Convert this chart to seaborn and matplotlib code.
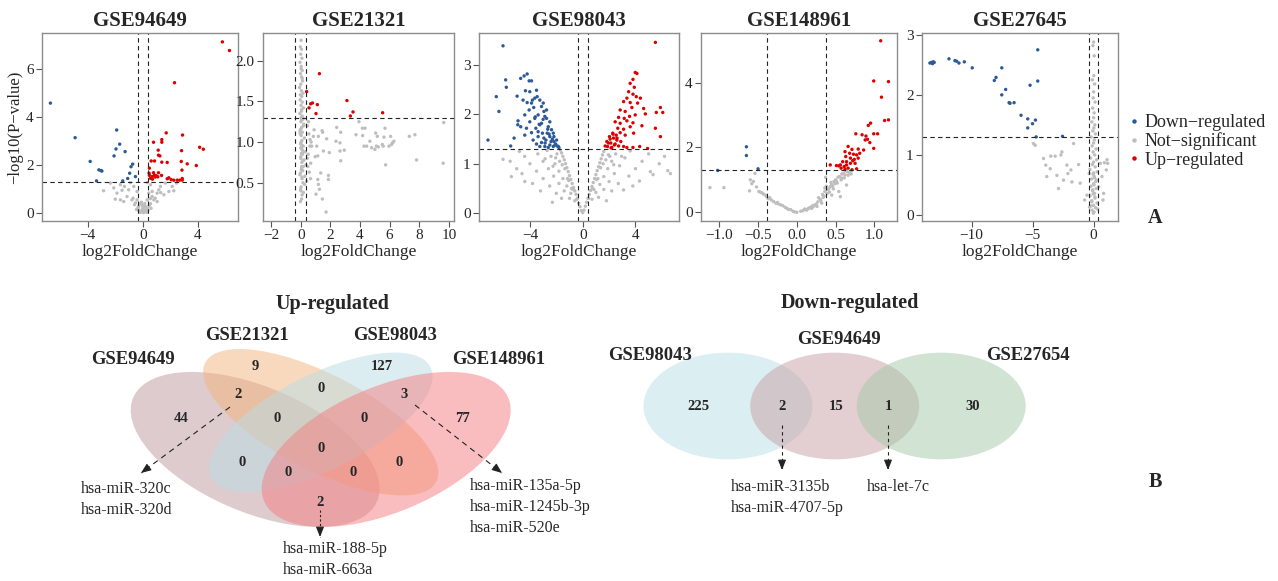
import numpy as np
import pandas as pd
import seaborn as sns
import matplotlib.pyplot as plt
from matplotlib.patches import Ellipse
from matplotlib.transforms import Affine2D
from matplotlib.lines import Line2D

sns.set_theme(style="white")
plt.rcParams["font.family"] = ["Liberation Serif", "DejaVu Serif"]
plt.rcParams["axes.unicode_minus"] = True

MINUS = "\u2212"
DOWN, NS, UP = f"Down{MINUS}regulated", f"Not{MINUS}significant", f"Up{MINUS}regulated"
palette = {DOWN: "#2b5a97", NS: "#bebebe", UP: "#dd0000"}

# ---------------- volcano data (log2FC, -log10 p) ----------------
# GSE94649
p1_up_x = [5.77, 6.28, 2.30, 1.70, 2.88, 1.38, 1.38, 0.78, 4.12, 4.39, 2.81, 1.12, 1.14, 1.24, 0.85, 1.38,
           1.77, 2.79, 3.22, 3.88, 2.84, 0.61, 0.48, 0.46, 0.48, 0.78, 0.85, 0.99, 0.68, 1.14, 1.09, 1.36,
           1.77, 2.06, 2.25, 2.50, 2.67, 2.86, 2.86, 1.89, 0.90, 0.70, 0.56]
p1_up_y = [7.13, 6.77, 5.43, 3.34, 3.25, 3.06, 2.95, 2.95, 2.74, 2.66, 2.60, 2.62, 2.41, 2.38, 2.17, 2.12,
           2.11, 2.15, 2.05, 1.98, 1.79, 2.17, 1.87, 1.66, 1.57, 1.68, 1.58, 1.55, 1.52, 1.68, 1.51, 1.57,
           1.43, 1.39, 1.37, 1.37, 1.37, 1.37, 1.44, 1.47, 1.50, 1.41, 1.45]
p1_dn_x = [-6.69, -4.90, -1.89, -1.67, -1.94, -1.28, -2.08, -3.81, -0.73, -0.85, -3.18, -3.03, -2.96,
           -0.95, -0.53, -1.09, -1.45, -3.35]
p1_dn_y = [4.58, 3.14, 3.46, 2.87, 2.67, 2.56, 2.38, 2.15, 2.04, 1.93, 1.80, 1.77, 1.75, 1.66, 1.52, 1.44,
           1.34, 1.34]
p1_ns_x = [-2.84, -1.99, -2.35, -1.62, -1.33, -0.90, -0.65, -0.41, 0.56, 0.68, 1.04, 1.53, 1.89, 1.28, 1.65,
           2.13, -1.14, -0.78, -0.53, -0.29, -0.05, 0.07, 0.32, 0.56, 0.80, 1.04, 0.19, -0.17, -0.41, 0.32,
           -1.62, -1.38, -1.87, 0.32, -0.17, -0.05, 0.68, 0.44, -1.02, 1.16, 2.25, 0.32, -0.30, 0.10, 0.00,
           -0.20, 0.25, 0.45, -0.60, 0.15, -0.10, 0.60, 2.45, -2.10, -0.35, 0.05, 0.20, -0.45, 0.38,
           -0.70, 0.90, 1.30, -1.50, 0.55, -0.25, 0.12]
p1_ns_y = [0.93, 0.58, 1.25, 1.18, 1.11, 1.27, 1.11, 0.90, 1.18, 0.90, 0.83, 0.76, 0.90, 1.11, 1.25,
           1.11, 0.69, 0.55, 0.42, 0.28, 0.14, 0.07, 0.21, 0.39, 0.55, 0.48, 0.28, 0.39, 0.55, 0.55,
           0.55, 0.48, 0.83, 0.03, 0.03, 0.35, 0.69, 0.83, 0.97, 0.97, 0.93, 1.27, 0.12, 0.18, 0.25,
           0.05, 0.10, 0.30, 0.35, 0.40, 0.45, 0.20, 1.25, 1.05, 0.22, 0.02, 0.06, 0.15, 0.12,
           0.62, 0.62, 0.85, 0.95, 0.60, 0.08, 0.30]

# GSE21321
p2_up_x = [1.26, 0.40, 0.67, 0.79, 0.56, 1.12, 1.03, 3.12, 3.53, 3.35, 5.53]
p2_up_y = [1.84, 1.62, 1.47, 1.48, 1.42, 1.46, 1.35, 1.51, 1.37, 1.32, 1.36]
p2_ns_x = [0.90, 1.44, 1.48, 0.85, 1.19, 0.63, 1.75, 0.74, 1.08, 1.53, 1.93, 0.97, 1.15, 0.67, 1.87, 1.87,
           1.35, 1.15, 1.19, 1.26, 1.03, 1.46, 1.71, 2.43, 2.70, 2.38, 2.65, 2.94, 2.65, 2.70, 3.93, 3.73,
           4.16, 4.34, 4.18, 4.27, 4.67, 5.06, 5.17, 4.79, 5.11, 5.01, 5.69, 5.62, 5.57, 5.51, 5.73, 6.07,
           6.20, 6.29, 6.13, 5.96, 7.33, 7.71, 7.82, 9.66, 9.62, 4.45, 5.24,
           0.02, -0.03, 0.05, 0.00, 0.08, -0.05, 0.03, 0.10, -0.02, 0.06, 0.12, 0.00, -0.08, 0.04, 0.15,
           0.07, -0.04, 0.10, 0.02, 0.18, 0.05, -0.06, 0.09, 0.14, 0.01, 0.20, 0.06, -0.03, 0.11, 0.03,
           0.25, 0.08, -0.01, 0.16, 0.04, 0.30, 0.12, 0.00, 0.22, 0.07, 0.35, 0.05, 0.13, -0.02, 0.28,
           0.09, 0.40, 0.02, 0.18, 0.06, -0.04, 0.03, 0.11, 0.00, 0.07, -0.06, 0.15, 0.01, 0.09, -0.02,
           0.05, 0.19, 0.00, 0.12, 0.04, 0.26, 0.08, -0.05, 0.14, 0.02, 0.45, 0.55, 0.62, 0.50, 0.70,
           0.48, 0.58, 0.66, 0.52, 0.44, 0.03, 0.10, -0.03, 0.06, 0.14, 0.00, 0.08, 0.04, 0.17, -0.01]
p2_ns_y = [1.15, 1.14, 1.12, 1.07, 1.07, 1.03, 1.04, 0.95, 0.95, 0.89, 0.87, 0.82, 0.83, 0.74, 0.59, 0.54,
           0.62, 0.54, 0.48, 0.42, 0.36, 0.30, 0.14, 1.18, 1.12, 1.01, 0.99, 0.90, 0.89, 0.77, 1.25, 1.09,
           1.17, 1.17, 1.08, 0.95, 1.01, 1.11, 1.07, 0.93, 0.95, 0.91, 1.17, 1.06, 0.95, 0.97, 0.72, 1.07,
           0.99, 1.01, 0.97, 0.95, 1.07, 1.09, 0.78, 1.24, 0.74, 0.95, 0.94,
           2.25, 2.17, 2.14, 2.08, 2.03, 1.98, 1.93, 1.88, 1.84, 1.80, 1.75, 1.71, 1.67, 1.63, 1.60,
           1.56, 1.52, 1.49, 1.45, 1.42, 1.38, 1.35, 1.32, 1.28, 1.25, 1.22, 1.18, 1.15, 1.12, 1.08,
           1.05, 1.02, 0.98, 0.95, 0.92, 0.88, 0.85, 0.82, 0.78, 0.75, 0.72, 0.68, 0.65, 0.62, 0.58,
           0.55, 0.52, 0.45, 0.38, 0.30, 1.10, 1.00, 0.90, 0.80, 0.70, 0.60, 0.50, 0.40, 0.35, 0.27,
           1.27, 1.20, 0.93, 0.87, 0.66, 0.48, 0.57, 1.13, 0.77, 1.30, 1.20, 1.10, 0.95, 0.85, 1.00,
           0.70, 0.63, 0.55, 1.25, 0.80, 1.90, 1.78, 1.58, 1.40, 1.30, 1.16, 0.96, 0.86, 0.70, 0.42]

# GSE98043
p3_dn_x = [-6.04, -5.84, -5.79, -6.55, -6.35, -7.18, -5.46, -5.20, -4.90, -4.92, -4.97, -4.70, -4.44, -4.21,
           -4.06, -3.88, -4.34, -4.01, -3.50, -4.52, -4.21, -3.81, -3.45, -3.25, -4.39, -4.06, -3.71, -3.12,
           -4.26, -4.01, -3.63, -3.38, -2.94, -4.39, -3.88, -3.55, -3.25, -2.74, -3.76, -3.38, -3.05, -2.61,
           -2.49, -3.50, -3.12, -2.79, -2.49, -2.23, -3.25, -2.87, -2.49, -2.18, -1.98, -2.61, -2.23, -1.93,
           -1.85, -2.99, -2.74, -2.87, -3.12, -3.38, -2.36, -2.18, -2.69, -2.94, -4.70, -3.88, -3.63, -2.55,
           -2.40, -2.05, -1.80, -3.00, -2.65, -2.30, -3.60, -3.30, -2.85, -2.10]
p3_dn_y = [3.39, 2.70, 2.55, 2.36, 2.06, 1.48, 1.36, 1.52, 1.87, 1.79, 2.37, 2.73, 2.78, 2.82,
           2.68, 2.68, 2.48, 2.46, 2.49, 2.29, 2.24, 2.29, 2.36, 2.29, 1.99, 2.09, 2.14, 2.16,
           1.72, 1.85, 1.92, 1.99, 2.06, 1.58, 1.63, 1.72, 1.79, 1.92, 1.48, 1.55, 1.62, 1.75,
           1.85, 1.40, 1.43, 1.48, 1.55, 1.62, 1.35, 1.35, 1.38, 1.45, 1.48, 1.33, 1.35, 1.36,
           1.35, 2.23, 2.09, 1.96, 1.82, 1.65, 1.69, 1.55, 1.62, 1.52, 1.75, 2.23, 2.33, 1.60,
           1.45, 1.40, 1.33, 1.90, 1.70, 1.50, 1.95, 1.80, 1.42, 1.38]
p3_up_x = [5.51, 3.98, 4.11, 3.81, 3.60, 3.91, 3.48, 3.81, 4.06, 4.37, 3.35, 3.10, 3.60, 4.16, 5.89, 6.07,
           5.58, 2.84, 3.22, 3.73, 4.62, 2.72, 3.15, 3.55, 3.98, 4.75, 2.46, 2.84, 3.35, 3.81, 2.66, 3.10,
           3.60, 4.49, 5.51, 2.28, 2.54, 2.84, 3.22, 3.86, 2.03, 2.34, 2.59, 2.89, 5.89, 1.83, 2.13, 2.46,
           2.72, 3.10, 1.88, 2.21, 3.35, 3.81, 4.32, 4.92, 2.08, 1.70, 2.30, 2.60, 1.95, 2.40, 2.15]
p3_up_y = [3.46, 2.85, 2.83, 2.71, 2.63, 2.55, 2.46, 2.41, 2.36, 2.33, 2.33, 2.26, 2.24, 2.23, 2.14, 2.04,
           2.04, 2.09, 2.06, 2.14, 2.12, 1.94, 1.92, 1.96, 1.99, 2.01, 1.85, 1.82, 1.87, 1.83, 1.72, 1.70,
           1.75, 1.77, 1.72, 1.62, 1.58, 1.63, 1.58, 1.62, 1.55, 1.52, 1.48, 1.45, 1.55, 1.45, 1.42, 1.40,
           1.36, 1.35, 1.35, 1.33, 1.33, 1.33, 1.35, 1.31, 1.50, 1.36, 1.60, 1.52, 1.42, 1.38, 1.32]
p3_ns_x = [-0.1, -0.2, -0.3, -0.4, -0.5, -0.6, -0.7, -0.8, -0.9, -1.0, -1.1, -1.2, -1.3, -1.4, -1.5, -1.6,
           -1.7, -0.6, -0.9, -1.2, -1.5, -1.8, -2.1, -2.4, -2.7, -1.0, -1.4, -1.8, -2.2, -2.6, -3.0, -3.4,
           -2.0, -2.5, -3.0, -3.5, -4.0, -4.4, -4.8, -3.2, -3.8, -4.39, -5.41, -6.04, -5.0, -5.5, -4.6,
           -2.3, -1.6, -1.15, -1.35, -0.85, -1.95, -2.25, -2.85, -0.45, -0.75, -1.05, -1.55, -1.75, -2.05,
           0.1, 0.2, 0.3, 0.4, 0.5, 0.6, 0.7, 0.8, 0.9, 1.0, 1.1, 1.2, 1.3, 1.4, 1.5, 1.6, 0.7, 1.0, 1.3,
           1.6, 1.9, 2.2, 2.5, 1.2, 1.6, 2.0, 2.4, 2.8, 3.2, 3.6, 2.2, 2.7, 3.10, 3.5, 4.0, 4.5, 5.0,
           5.13, 5.33, 6.45, 6.65, 4.3, 5.8, 6.2, 3.8, 1.8, 1.15, 1.35, 0.85, 1.95, 2.35, 2.95, 0.0,
           0.45, 0.75, 1.05, 1.55, 1.75, 2.05]
p3_ns_y = [0.05, 0.13, 0.20, 0.30, 0.38, 0.45, 0.52, 0.60, 0.68, 0.76, 0.84, 0.92, 1.00, 1.08, 1.15, 1.22,
           1.28, 0.25, 0.40, 0.55, 0.70, 0.85, 1.00, 1.15, 1.27, 0.30, 0.45, 0.60, 0.75, 0.90, 1.05, 1.20,
           0.40, 0.55, 0.70, 0.85, 1.00, 1.15, 1.25, 0.45, 0.60, 0.64, 0.74, 1.09, 0.90, 1.05, 0.80,
           0.22, 0.30, 0.70, 0.90, 0.50, 1.20, 0.95, 1.10, 0.28, 0.48, 0.66, 0.98, 1.05, 1.12,
           0.06, 0.14, 0.22, 0.30, 0.38, 0.46, 0.54, 0.62, 0.70, 0.78, 0.86, 0.94, 1.02, 1.10, 1.18, 1.25,
           0.28, 0.42, 0.58, 0.74, 0.90, 1.05, 1.20, 0.32, 0.48, 0.64, 0.80, 0.96, 1.12, 1.26, 0.45,
           0.60, 0.47, 0.75, 0.90, 1.05, 1.20, 0.84, 0.78, 0.86, 0.80, 0.65, 1.00, 1.15, 0.55, 0.25,
           0.70, 0.92, 0.48, 1.18, 0.98, 1.15, 0.01, 0.30, 0.50, 0.68, 1.00, 1.08, 1.15]

# GSE148961
p4_dn_x = [-0.65, -0.65, -0.50, -1.02]
p4_dn_y = [2.02, 1.75, 1.34, 1.29]
p4_up_x = [1.08, 0.99, 1.18, 1.09, 1.13, 1.18, 0.92, 0.95, 0.76, 0.84, 0.89, 0.99, 1.04, 0.88, 0.91, 0.94,
           0.66, 0.71, 0.79, 0.86, 0.99, 0.62, 0.68, 0.73, 0.77, 0.63, 0.69, 0.74, 0.79, 0.59, 0.64, 0.69,
           0.75, 0.43, 0.51, 0.56, 0.61, 0.57, 0.62, 0.66, 0.77, 0.71, 0.54, 0.64, 0.72, 0.81]
p4_up_y = [5.29, 4.05, 4.03, 3.55, 2.83, 2.85, 2.68, 2.75, 2.42, 2.39, 2.35, 2.42, 2.42, 2.23, 2.25, 2.15,
           2.03, 1.94, 1.95, 1.92, 1.97, 1.87, 1.82, 1.79, 1.77, 1.72, 1.67, 1.63, 1.67, 1.56, 1.56, 1.51,
           1.51, 1.46, 1.44, 1.46, 1.41, 1.36, 1.33, 1.36, 1.34, 1.31, 1.43, 1.46, 1.59, 1.82]
p4_ns_x = [-0.60, -0.49, -0.39, -0.30, -0.21, -0.11, 0.00, 0.13, 0.21, 0.30, 0.36, 0.43, 0.51, 0.58, 0.62,
           0.54, 0.45, 0.32, -1.12, -0.94, -0.61, -0.56, -0.54, 0.56, 0.64, 0.37, 0.25, 0.35, 0.40, 0.45,
           0.50, 0.55, 0.60, 0.65, 0.28, 0.15, -0.15, -0.25, -0.35, -0.45, -0.40, 0.05, -0.05, 0.47, 0.52,
           0.42, 0.33, 0.38, 0.48, 0.58, 0.20, 0.10, -0.08, -0.18, 0.68, 0.44, 0.53, 0.36,
           0.08, 0.17, 0.23, 0.27, 0.31, 0.34, 0.39, 0.41, 0.46, 0.49, 0.57, 0.61, 0.66, 0.70, 0.63,
           -0.03, -0.13, -0.24, -0.33, -0.43, -0.52, -0.58, -0.27, -0.37, -0.47, 0.12, 0.19, 0.26]
p4_ns_y = [1.00, 0.64, 0.48, 0.33, 0.23, 0.09, 0.00, 0.07, 0.17, 0.40, 0.64, 0.79, 0.95, 1.05, 1.15,
           0.64, 0.53, 0.28, 0.76, 0.76, 0.66, 0.95, 1.20, 0.48, 0.84, 1.08, 0.25, 0.50, 0.70, 0.85,
           1.00, 1.10, 1.20, 1.25, 0.45, 0.12, 0.15, 0.30, 0.45, 0.60, 0.52, 0.03, 0.03, 0.72, 0.90,
           0.62, 0.55, 0.80, 0.95, 1.18, 0.20, 0.10, 0.08, 0.20, 1.22, 0.92, 1.08, 0.75,
           0.05, 0.15, 0.22, 0.32, 0.36, 0.46, 0.58, 0.72, 0.80, 0.88, 1.00, 1.06, 1.14, 1.18, 1.28,
           0.01, 0.12, 0.26, 0.38, 0.56, 0.78, 0.88, 0.28, 0.42, 0.62, 0.08, 0.12, 0.18]

# GSE27645
p5_dn_x = [-13.42, -13.29, -13.15, -13.07, -13.21, -11.86, -11.37, -11.23, -11.04, -10.60, -9.95, -7.53,
           -8.00, -8.14, -7.21, -7.53, -6.93, -6.85, -6.52, -5.95, -5.40, -5.40, -5.01, -4.77, -5.21, -4.58,
           -4.58, -4.71, -2.55]
p5_dn_y = [2.53, 2.54, 2.55, 2.54, 2.52, 2.60, 2.57, 2.56, 2.53, 2.55, 2.45, 2.45,
           2.29, 2.24, 2.09, 2.00, 1.87, 1.86, 1.87, 1.66, 1.60, 1.45, 1.52, 1.58, 2.16, 2.75,
           2.23, 1.30, 1.31]
p5_ns_x = [-4.93, -4.79, -4.11, -3.92, -3.51, -3.15, -2.68, -2.60, -3.84, -3.01, -2.19, -2.11, -1.86, -1.64,
           -1.23, -1.10, -0.74, -0.55, -0.36, 0.55, 0.88, 1.10, 1.04, 0.68, 0.82, 0.41, 0.77, 1.15, -2.88,
           -2.47, -3.56, -1.78,
           0.00, -0.05, 0.05, 0.02, -0.10, 0.08, 0.00, -0.03, 0.12, -0.08, 0.04, 0.00, -0.15, 0.10, 0.02,
           -0.06, 0.15, -0.20, 0.06, 0.00, -0.12, 0.20, -0.04, 0.09, -0.25, 0.25, 0.00, -0.10, 0.14, -0.30,
           0.30, -0.05, 0.05, -0.18, 0.18, 0.00, -0.22, 0.22, -0.08, 0.08, -0.28, 0.12, -0.15, 0.28, 0.00,
           -0.33, 0.33, -0.12, 0.04, -0.02, 0.03, -0.07, 0.10, -0.14, 0.16, -0.02, 0.07, -0.20, 0.24, 0.01]
p5_ns_y = [1.19, 1.16, 0.94, 0.83, 0.98, 0.98, 1.00, 1.05, 0.64, 0.66, 0.83, 0.69, 0.75, 1.19,
           0.84, 0.53, 0.25, 0.33, 0.69, 0.86, 0.87, 0.92, 0.75, 0.64, 0.36, 0.47, 0.25, 0.86, 0.44,
           0.58, 0.77, 0.55,
           2.88, 2.82, 2.65, 2.32, 2.25, 2.18, 2.05, 1.95, 1.88, 1.78, 1.70, 1.62, 1.55, 1.50, 1.45,
           1.40, 1.35, 1.30, 1.25, 1.20, 1.15, 1.10, 1.05, 1.00, 0.95, 0.92, 0.88, 0.84, 0.80, 0.76,
           0.72, 0.68, 0.64, 0.60, 0.56, 0.52, 0.48, 0.44, 0.40, 0.36, 0.32, 0.28, 0.24, 0.20, 0.16,
           0.13, 0.10, 0.08, 0.05, 0.03, 0.50, 0.42, 0.30, 0.22, 0.12, 0.35, 0.62, 0.15, 0.58, 0.70]

# ---------------- Venn data ----------------
up_sets = ["GSE94649", "GSE21321", "GSE98043", "GSE148961"]
up_region_counts = [44, 9, 127, 77, 2, 0, 3, 0, 0, 0, 0, 0, 0, 0, 2]
up_region_names = ["A", "B", "C", "D", "AB", "BC", "CD", "ABC", "BCD", "ABCD", "AC", "ACD", "ABD", "BD", "AD"]
up_genes_AB = ["hsa-miR-320c", "hsa-miR-320d"]
up_genes_CD = ["hsa-miR-135a-5p", "hsa-miR-1245b-3p", "hsa-miR-520e"]
up_genes_AD = ["hsa-miR-188-5p", "hsa-miR-663a"]

down_sets = ["GSE98043", "GSE94649", "GSE27654"]
down_region_counts = [225, 2, 15, 1, 30]
down_genes_12 = ["hsa-miR-3135b", "hsa-miR-4707-5p"]
down_genes_23 = ["hsa-let-7c"]


def frame(dn_x, dn_y, ns_x, ns_y, up_x, up_y):
    parts = [pd.DataFrame({"x": ns_x, "y": ns_y, "group": NS}),
             pd.DataFrame({"x": dn_x, "y": dn_y, "group": DOWN}),
             pd.DataFrame({"x": up_x, "y": up_y, "group": UP})]
    return pd.concat(parts, ignore_index=True)


panels = [
    ("GSE94649", frame(p1_dn_x, p1_dn_y, p1_ns_x, p1_ns_y, p1_up_x, p1_up_y),
     (-7.3, 6.9), (-0.33, 7.5), [-4, 0, 4], [0, 2, 4, 6], None),
    ("GSE21321", frame([], [], p2_ns_x, p2_ns_y, p2_up_x, p2_up_y),
     (-2.55, 10.35), (0.03, 2.34), [-2, 0, 2, 4, 6, 8, 10], [0.5, 1.0, 1.5, 2.0], "y1"),
    ("GSE98043", frame(p3_dn_x, p3_dn_y, p3_ns_x, p3_ns_y, p3_up_x, p3_up_y),
     (-7.86, 7.3), (-0.16, 3.65), [-4, 0, 4], [0, 1, 2, 3], None),
    ("GSE148961", frame(p4_dn_x, p4_dn_y, p4_ns_x, p4_ns_y, p4_up_x, p4_up_y),
     (-1.235, 1.29), (-0.27, 5.53), [-1.0, -0.5, 0.0, 0.5, 1.0], [0, 2, 4], "x1"),
    ("GSE27645", frame(p5_dn_x, p5_dn_y, p5_ns_x, p5_ns_y, [], []),
     (-14.07, 2.0), (-0.1, 3.03), [-10, -5, 0], [0, 1, 2, 3], None),
]

W, H = 1278, 581
fig = plt.figure(figsize=(W / 100, H / 100), dpi=100)

lefts = [42, 263, 479, 701, 922]
widths = [196, 191, 200, 196, 196]
fc = np.log2(1.3)
for (title, df, xl, yl, xt, yt, fmt), l, w in zip(panels, lefts, widths):
    ax = fig.add_axes([l / W, (H - 221) / H, w / W, 188 / H])
    sns.scatterplot(data=df, x="x", y="y", hue="group", palette=palette, s=6,
                    linewidth=0, legend=False, ax=ax)
    ax.axhline(-np.log10(0.05), ls=(0, (4, 3)), color="#222222", lw=0.8)
    ax.axvline(-fc, ls=(0, (4, 3)), color="#222222", lw=0.8)
    ax.axvline(fc, ls=(0, (4, 3)), color="#222222", lw=0.8)
    ax.set_xlim(xl)
    ax.set_ylim(yl)
    ax.set_xticks(xt)
    ax.set_yticks(yt)
    if fmt == "y1":
        ax.set_yticklabels([f"{v:.1f}" for v in yt])
    if fmt == "x1":
        ax.set_xticklabels([f"{v:.1f}".replace("-", MINUS) for v in xt])
    ax.tick_params(direction="out", length=4, width=0.8, color="#555555", labelsize=11,
                   left=True, bottom=True, pad=2)
    for sp in ax.spines.values():
        sp.set_color("#8c8c8c")
        sp.set_linewidth(1.0)
    ax.set_title(title, fontsize=15, fontweight="bold", pad=5)
    ax.set_xlabel("log2FoldChange", fontsize=12.5, labelpad=1)
    ax.set_ylabel("")
    if title == "GSE94649":
        ax.set_ylabel(f"{MINUS}log10(P{MINUS}value)", fontsize=12, labelpad=2)

handles = [Line2D([], [], marker="o", ls="", markersize=3.2, markeredgewidth=0, color=palette[k])
           for k in [DOWN, NS, UP]]
fig.legend(handles, [DOWN, NS, UP], loc="upper left", bbox_to_anchor=(1129 / W, 1 - 114 / H),
           frameon=False, fontsize=13, handlelength=0.5, handletextpad=0.35, labelspacing=0.08,
           borderpad=0, borderaxespad=0)

# ---------------- Venn diagrams on a pixel overlay ----------------
ov = fig.add_axes([0, 0, 1, 1])
ov.set_xlim(0, W)
ov.set_ylim(H, 0)
ov.axis("off")
ov.patch.set_alpha(0)

fig.text(1155 / W, 1 - 218 / H, "A", fontsize=14.5, fontweight="bold", ha="center", va="center")
fig.text(1155 / W, 1 - 482 / H, "B", fontsize=14.5, fontweight="bold", ha="center", va="center")

# four-set ellipses in unit coordinates, stretched onto the pixel grid
unit = Affine2D().scale(436.8, -272).translate(102.3, 577.3) + ov.transData
up_shapes = [((0.35, 0.47), 0.70, 0.40, 135, "#bd999d"),
             ((0.50, 0.57), 0.70, 0.30, 135, "#f5b57d"),
             ((0.50, 0.57), 0.66, 0.30, 45, "#b9dde5"),
             ((0.65, 0.47), 0.70, 0.40, 45, "#f57d81")]
for (c, wd, ht, ang, col) in up_shapes:
    ov.add_patch(Ellipse(c, wd, ht, angle=ang, facecolor=col, alpha=0.5, edgecolor="none", transform=unit))

up_region_xy = {"A": (181, 419), "B": (255, 367), "C": (382, 367), "D": (462, 419),
                "AB": (238, 395), "BC": (321, 389), "CD": (404, 395), "ABC": (277, 419),
                "BCD": (364, 419), "ABCD": (321, 449), "AC": (242, 463), "ACD": (288, 473),
                "ABD": (353, 473), "BD": (399, 463), "AD": (320, 502)}
for name, n in zip(up_region_names, up_region_counts):
    x, y = up_region_xy[name]
    ov.text(x, y, str(n), fontsize=10.5, fontweight="bold", ha="center", va="center")

for s, (x, y) in zip(up_sets, [(133, 360), (247, 336), (395, 336), (499, 360)]):
    ov.text(x, y, s, fontsize=13.4, fontweight="bold", ha="center", va="center")
ov.text(332, 304, "Up-regulated", fontsize=14.5, fontweight="bold", ha="center", va="center")


def pointer(x0, y0, x1, y1, dash):
    ov.plot([x0, x1], [y0, y1], ls=(0, dash), color="#222222", lw=0.8)
    dx, dy = x1 - x0, y1 - y0
    d = np.hypot(dx, dy)
    ov.annotate("", xy=(x1, y1), xytext=(x1 - 6 * dx / d, y1 - 6 * dy / d),
                arrowprops=dict(arrowstyle="-|>,head_length=0.5,head_width=0.2", lw=0.8,
                                color="#222222", shrinkA=0, shrinkB=0))


def gene_list(x, y, genes):
    for i, g in enumerate(genes):
        ov.text(x, y + i * 21, g, fontsize=11.5, ha="left", va="center")


pointer(230, 407, 141, 473, (5, 4))
gene_list(81, 489, up_genes_AB)
pointer(415, 405, 502, 473, (5, 4))
gene_list(470, 486, up_genes_CD)
pointer(320, 510, 320, 537, (2, 2))
gene_list(283, 549, up_genes_AD)

# three-set down-regulated diagram
down_cx = [728, 834.7, 941.2]
down_cols = ["#b9e1e7", "#c9a1a5", "#a5c9a9"]
for cx, col in zip(down_cx, down_cols):
    ov.add_patch(Ellipse((cx, 406), 169, 106.7, facecolor=col, alpha=0.5, edgecolor="none"))
for x, n in zip([698, 782, 836, 888, 973], down_region_counts):
    ov.text(x, 407, str(n), fontsize=10.5, fontweight="bold", ha="center", va="center")
for s, (x, y) in zip(down_sets, [(650, 356), (839, 339), (1028, 355)]):
    ov.text(x, y, s, fontsize=13.4, fontweight="bold", ha="center", va="center")
ov.text(850, 303, "Down-regulated", fontsize=14.5, fontweight="bold", ha="center", va="center")
pointer(782, 425, 782, 470, (3, 3))
gene_list(731, 487, down_genes_12)
pointer(888, 425, 888, 470, (3, 3))
gene_list(867, 487, down_genes_23)

fig.savefig("out.png", dpi=100)
